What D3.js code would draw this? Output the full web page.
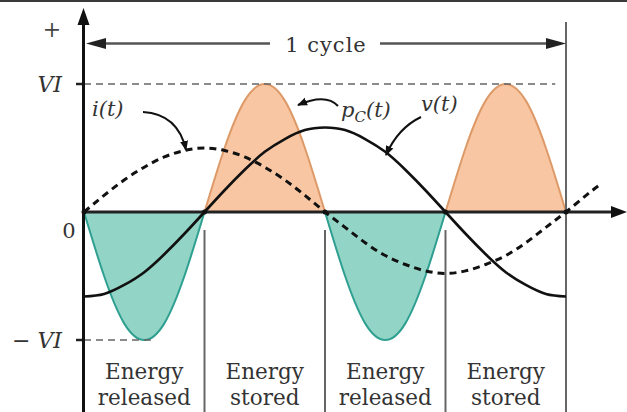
<!DOCTYPE html>
<html>
<head>
<meta charset="utf-8">
<script src="https://cdn.jsdelivr.net/npm/d3@7"></script>
<style>
  html, body { margin: 0; padding: 0; background: #fff; }
  svg { display: block; }
</style>
</head>
<body>
<svg id="chart" width="627" height="412"></svg>
<script>
// ---- data, angles in degrees, values in units of VI ----
const angles = [0,15,30,45,60,75,90,105,120,135,150,165,180,195,210,225,240,255,270,285,300,315,330,345,360];
const pValues = [0,-0.5,-0.87,-1,-0.87,-0.5,0,0.5,0.87,1,0.87,0.5,0,-0.5,-0.87,-1,-0.87,-0.5,0,0.5,0.87,1,0.87,0.5,0];
const vValues = [-0.66,-0.64,-0.57,-0.47,-0.33,-0.17,0,0.17,0.33,0.47,0.57,0.64,0.66,0.64,0.57,0.47,0.33,0.17,0,-0.17,-0.33,-0.47,-0.57,-0.64,-0.66];
const iAngles = [0,15,30,45,60,75,90,105,120,135,150,165,180,195,210,225,240,255,270,285,300,315,330,345,360,375,385];
const iValues = [0,0.13,0.25,0.35,0.43,0.48,0.5,0.48,0.43,0.35,0.25,0.13,0,-0.12,-0.24,-0.34,-0.41,-0.46,-0.48,-0.46,-0.41,-0.34,-0.24,-0.12,0,0.13,0.21];
const quarterBounds = [0,90,180,270,360];
const regionTop = ["Energy","Energy","Energy","Energy"];
const regionBottom = ["released","stored","released","stored"];
const yTickLabels = [{v:1,t:"VI"},{v:-1,t:"\u2212 VI"}];

// ---- layout ----
const svg = d3.select("#chart");
const x = d3.scaleLinear().domain([0,360]).range([84,566]);
const y = d3.scaleLinear().domain([-1,1]).range([340,84]);
const serif = "'DejaVu Serif', 'Liberation Serif', serif";

// top border
svg.append("rect").attr("x",0).attr("y",0).attr("width",627).attr("height",2).attr("fill","#3a3a3a");

const defs = svg.append("defs");
defs.append("marker").attr("id","ah").attr("viewBox","0 0 10 10").attr("refX",9).attr("refY",5)
  .attr("markerWidth",5).attr("markerHeight",5).attr("orient","auto").attr("markerUnits","strokeWidth")
  .append("path").attr("d","M0,1 L10,5 L0,9 Z").attr("fill","#111");

// ---- p(t) lobes ----
const pts = angles.map((a,k)=>({a, p:pValues[k], v:vValues[k]}));
const lobes = d3.range(4).map(k => pts.slice(k*6, k*6+7));
const area = d3.area().x(d=>x(d.a)).y0(y(0)).y1(d=>y(d.p)).curve(d3.curveNatural);
const lineP = d3.line().x(d=>x(d.a)).y(d=>y(d.p)).curve(d3.curveNatural);
lobes.forEach(l => {
  const pos = d3.mean(l, d=>d.p) > 0;
  svg.append("path").attr("d", area(l))
    .attr("fill", pos ? "#f8c6a2" : "#92d5c6");
  svg.append("path").attr("d", lineP(l)).attr("fill","none")
    .attr("stroke", pos ? "#dd9a68" : "#2e9f90").attr("stroke-width",2);
});

// ---- VI reference dashed lines and ticks ----
svg.append("line").attr("x1",x(0)).attr("x2",x(352)).attr("y1",y(1)).attr("y2",y(1))
  .attr("stroke","#666").attr("stroke-width",1.6).attr("stroke-dasharray","7,5");
svg.append("line").attr("x1",x(0)).attr("x2",x(50)).attr("y1",y(-1)).attr("y2",y(-1))
  .attr("stroke","#666").attr("stroke-width",1.6).attr("stroke-dasharray","7,5");
yTickLabels.forEach(t=>{
  svg.append("line").attr("x1",x(0)-8).attr("x2",x(0)).attr("y1",y(t.v)).attr("y2",y(t.v))
    .attr("stroke","#222").attr("stroke-width",2.5);
  svg.append("text").attr("x",x(0)-22).attr("y",y(t.v)+8).attr("text-anchor","end")
    .attr("font-family",serif).attr("font-style","italic").attr("font-size",22).attr("fill","#333").text(t.t);
});

// ---- vertical region lines ----
quarterBounds.slice(1).forEach(a=>{
  svg.append("line").attr("x1",x(a)).attr("x2",x(a))
    .attr("y1", a===360 ? 22 : 230).attr("y2",412)
    .attr("stroke","#666").attr("stroke-width",2);
});

// ---- axes ----
svg.append("line").attr("x1",x(0)-0.5).attr("x2",x(0)-0.5).attr("y1",20).attr("y2",412)
  .attr("stroke","#111").attr("stroke-width",3);
svg.append("path").attr("d",`M${x(0)-0.5},8 L${x(0)-6.5},25 L${x(0)+5.5},25 Z`).attr("fill","#111");
svg.append("line").attr("x1",x(0)).attr("x2",614).attr("y1",y(0)).attr("y2",y(0))
  .attr("stroke","#222").attr("stroke-width",3);
svg.append("path").attr("d",`M627,${y(0)} L611,${y(0)-6} L611,${y(0)+6} Z`).attr("fill","#111");

// ---- v(t) and i(t) ----
const lineV = d3.line().x(d=>x(d.a)).y(d=>y(d.v)).curve(d3.curveNatural);
svg.append("path").attr("d", lineV(pts)).attr("fill","none").attr("stroke","#111").attr("stroke-width",2.6);
const iPts = iAngles.map((a,k)=>({a, i:iValues[k]}));
const lineI = d3.line().x(d=>x(d.a)).y(d=>y(d.i)).curve(d3.curveNatural);
svg.append("path").attr("d", lineI(iPts)).attr("fill","none").attr("stroke","#111")
  .attr("stroke-width",3).attr("stroke-dasharray","7,5");

// zero-crossing dots
quarterBounds.forEach(a=>{
  svg.append("circle").attr("cx",x(a)).attr("cy",y(0)).attr("r",2.5).attr("fill","#111");
});

// ---- 1 cycle dimension ----
const cy = 43.5;
svg.append("line").attr("x1",x(0)+14).attr("x2",270).attr("y1",cy).attr("y2",cy).attr("stroke","#555").attr("stroke-width",2.5);
svg.append("path").attr("d",`M${x(0)+2},${cy} L${x(0)+22},${cy-5.5} L${x(0)+22},${cy+5.5} Z`).attr("fill","#222");
svg.append("line").attr("x1",380).attr("x2",x(360)-14).attr("y1",cy).attr("y2",cy).attr("stroke","#555").attr("stroke-width",2.5);
svg.append("path").attr("d",`M${x(360)},${cy} L${x(360)-20},${cy-5.5} L${x(360)-20},${cy+5.5} Z`).attr("fill","#222");
svg.append("text").attr("x",326).attr("y",52).attr("text-anchor","middle")
  .attr("font-family",serif).attr("font-size",21).attr("letter-spacing",1).attr("fill","#333").text("1 cycle");

// ---- axis labels ----
svg.append("text").attr("x",52).attr("y",37).attr("text-anchor","middle")
  .attr("font-family",serif).attr("font-size",22).attr("fill","#444").text("+");
svg.append("text").attr("x",69).attr("y",238).attr("text-anchor","middle")
  .attr("font-family",serif).attr("font-size",21).attr("fill","#333").text("0");

// ---- curve labels ----
const lab = (tx,ty)=>svg.append("text").attr("x",tx).attr("y",ty)
  .attr("font-family",serif).attr("font-style","italic").attr("font-size",21).attr("fill","#333");
lab(92,116).text("i(t)");
const pl = lab(341,117);
pl.append("tspan").text("p");
pl.append("tspan").attr("font-size",15).attr("dy",5).text("C");
pl.append("tspan").attr("dy",-5).text("(t)");
lab(421,111).text("v(t)");

// annotation arrows
const ann = (d)=>svg.append("path").attr("d",d).attr("fill","none").attr("stroke","#111")
  .attr("stroke-width",2).attr("marker-end","url(#ah)");
ann("M143,112 Q178,114 186,150");
ann("M338,106 Q326,93 298,105");
ann("M421,117 Q398,128 386,155");

// ---- region labels ----
d3.range(4).forEach(k=>{
  const cx = (x(quarterBounds[k]) + x(quarterBounds[k+1]))/2;
  svg.append("text").attr("x",cx).attr("y",379).attr("text-anchor","middle")
    .attr("font-family",serif).attr("font-size",21.5).attr("fill","#333").text(regionTop[k]);
  svg.append("text").attr("x",cx).attr("y",405).attr("text-anchor","middle")
    .attr("font-family",serif).attr("font-size",21.5).attr("fill","#333").text(regionBottom[k]);
});
</script>
</body>
</html>
